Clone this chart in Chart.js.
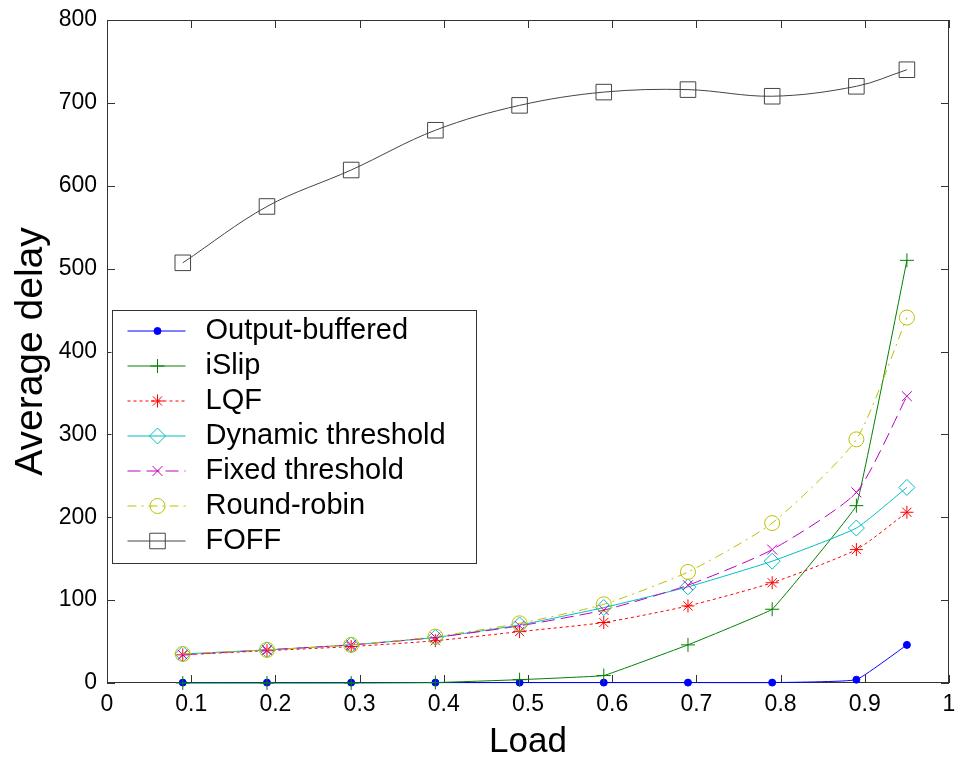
<!DOCTYPE html>
<html>
<head>
<meta charset="utf-8">
<script src="https://cdn.jsdelivr.net/npm/chart.js@4"></script>
<style>
  body { margin: 0; background: #fff; }
  #wrap { width: 961px; height: 758px; }
</style>
</head>
<body>
<div id="wrap"><canvas id="c"></canvas></div>
<script>
// values
const loads = [0.09, 0.19, 0.29, 0.39, 0.49, 0.59, 0.69, 0.79, 0.89, 0.95];
const seriesNames = ["Output-buffered", "iSlip", "LQF", "Dynamic threshold", "Fixed threshold", "Round-robin", "FOFF"];
const outputBuffered = [0.5, 0.5, 0.5, 0.5, 0.5, 0.5, 0.5, 0.5, 4, 46];
const iSlip = [0, 0, 0, 0.5, 4, 9, 46, 89, 214, 510];
const lqf = [34, 39, 44, 51, 62, 73, 93, 121, 161, 206];
const dynThreshold = [35, 40, 46, 55, 70, 91, 116, 147, 187, 236];
const fixedThreshold = [34, 40, 46, 55, 69, 88, 118, 161, 230, 346];
const roundRobin = [35, 40, 46, 56, 72, 95, 134, 193, 294, 441];
const foff = [507, 575, 619, 667, 697, 713, 716, 708, 720, 740];
const xTicks = [0, 0.1, 0.2, 0.3, 0.4, 0.5, 0.6, 0.7, 0.8, 0.9, 1];
const yTicks = [0, 100, 200, 300, 400, 500, 600, 700, 800];

const allSeries = [outputBuffered, iSlip, lqf, dynThreshold, fixedThreshold, roundRobin, foff];

// matlab-ish line/marker styles
const styles = [
  { color: "#0000ff", dash: [], point: "circle", r: 3.5, fill: "#0000ff", tension: 0.1 },
  { color: "#008000", dash: [], point: "cross", r: 7, fill: "rgba(0,0,0,0)", tension: 0.05 },
  { color: "#ff0000", dash: [3, 3], point: "star", r: 6.5, fill: "rgba(0,0,0,0)", tension: 0.2 },
  { color: "#00bfbf", dash: [], point: "rectRot", r: 8, fill: "rgba(0,0,0,0)", tension: 0.15 },
  { color: "#bf00bf", dash: [13, 6], point: "crossRot", r: 7, fill: "rgba(0,0,0,0)", tension: 0.2 },
  { color: "#bfbf00", dash: [9, 5, 2, 5], point: "circle", r: 7.5, fill: "rgba(0,0,0,0)", tension: 0.2 },
  { color: "#444444", dash: [], point: "rect", r: 11, fill: "rgba(0,0,0,0)", tension: 0.35 }
];

const FONT = "Arial, 'Liberation Sans', sans-serif";

const datasets = allSeries.map((vals, i) => ({
  label: seriesNames[i],
  data: loads.map((x, j) => ({ x: x, y: vals[j] })),
  borderColor: styles[i].color,
  borderWidth: 1,
  borderDash: styles[i].dash,
  pointStyle: styles[i].point,
  pointRadius: styles[i].r,
  pointBorderWidth: 1,
  pointBorderColor: styles[i].color,
  pointBackgroundColor: styles[i].fill,
  tension: styles[i].tension,
  clip: false,
  order: -i
}));

// box + inward tick marks
const framePlugin = {
  id: "frame",
  beforeDatasetsDraw(chart) {
    const { ctx, chartArea: a, scales } = chart;
    ctx.save();
    ctx.strokeStyle = "#333";
    ctx.lineWidth = 1;
    ctx.strokeRect(a.left + 0.5, a.top + 0.5, a.right - a.left - 1, a.bottom - a.top - 1);
    ctx.beginPath();
    xTicks.forEach(v => {
      const px = Math.round(scales.x.getPixelForValue(v)) + 0.5;
      ctx.moveTo(px, a.bottom); ctx.lineTo(px, a.bottom - 8);
      ctx.moveTo(px, a.top); ctx.lineTo(px, a.top + 8);
    });
    yTicks.forEach(v => {
      const py = Math.round(scales.y.getPixelForValue(v)) + 0.5;
      ctx.moveTo(a.left, py); ctx.lineTo(a.left + 8, py);
      ctx.moveTo(a.right, py); ctx.lineTo(a.right - 8, py);
    });
    ctx.stroke();
    ctx.restore();
  }
};

// legend sits inside the plot, like the matlab one
const legendPlugin = {
  id: "boxLegend",
  afterDraw(chart) {
    const { ctx, chartArea: a } = chart;
    const x0 = a.left + 4.5, y0 = a.top + 290, w = 364, h = 253;
    ctx.save();
    ctx.fillStyle = "#fff";
    ctx.fillRect(x0, y0, w, h);
    ctx.strokeStyle = "#333";
    ctx.lineWidth = 1;
    ctx.strokeRect(Math.round(x0) + 0.5, Math.round(y0) + 0.5, w, h);
    chart.data.datasets.forEach((ds, i) => {
      const y = y0 + 21 + i * 35;
      ctx.strokeStyle = ds.borderColor;
      ctx.lineWidth = 1;
      ctx.setLineDash(ds.borderDash);
      ctx.beginPath();
      ctx.moveTo(x0 + 16, y);
      ctx.lineTo(x0 + 74, y);
      ctx.stroke();
      ctx.setLineDash([]);
      ctx.fillStyle = ds.pointBackgroundColor;
      if (Chart.helpers && Chart.helpers.drawPoint) {
        Chart.helpers.drawPoint(ctx, { pointStyle: ds.pointStyle, radius: ds.pointRadius, borderWidth: 1, rotation: 0 }, x0 + 46, y);
      }
      ctx.fillStyle = "#000";
      ctx.font = "29px " + FONT;
      ctx.textBaseline = "middle";
      ctx.textAlign = "left";
      ctx.fillText(ds.label, x0 + 94, y);
    });
    ctx.restore();
  }
};

new Chart(document.getElementById("c"), {
  type: "line",
  data: { datasets: datasets },
  options: {
    responsive: true,
    maintainAspectRatio: false,
    animation: false,
    layout: { padding: { left: 0, top: 20, right: 11, bottom: 0 } },
    plugins: { legend: { display: false }, tooltip: { enabled: false } },
    scales: {
      x: {
        type: "linear",
        min: 0, max: 1,
        afterBuildTicks: s => { s.ticks = xTicks.map(v => ({ value: v })); },
        afterFit: s => { s.height = 75; s.paddingLeft = 0; s.paddingRight = 0; },
        grid: { display: false, drawTicks: false },
        border: { display: false },
        ticks: { color: "#000", font: { family: FONT, size: 23 }, padding: 8, maxRotation: 0, callback: v => String(v) },
        title: { display: true, text: "Load", color: "#000", font: { family: FONT, size: 35, lineHeight: 1 }, padding: { top: 0, bottom: -2 } }
      },
      y: {
        min: 0, max: 800,
        afterBuildTicks: s => { s.ticks = yTicks.map(v => ({ value: v })); },
        afterFit: s => { s.width = 107; s.paddingTop = 0; s.paddingBottom = 0; },
        grid: { display: false, drawTicks: false },
        border: { display: false },
        ticks: { color: "#000", font: { family: FONT, size: 23 }, padding: 10, callback: v => String(v) },
        title: { display: true, text: "Average delay", color: "#000", font: { family: FONT, size: 39, lineHeight: 1 }, padding: { top: 12, bottom: 0 } }
      }
    }
  },
  plugins: [framePlugin, legendPlugin]
});
</script>
</body>
</html>
